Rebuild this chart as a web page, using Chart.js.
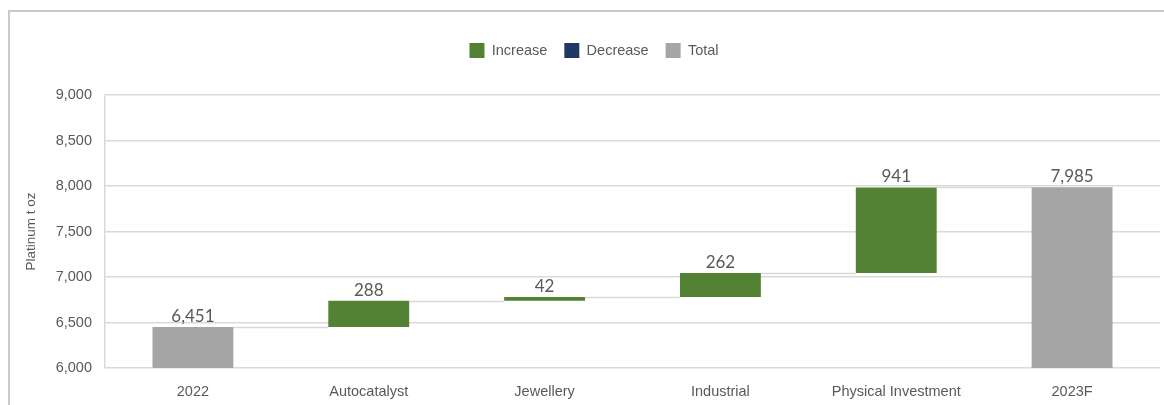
<!DOCTYPE html>
<html><head><meta charset="utf-8">
<script src="https://cdn.jsdelivr.net/npm/chart.js@4"></script>
<style>
html,body{margin:0;padding:0;background:#fff;overflow:hidden;}
#frame{position:absolute;left:8px;top:10px;width:1200px;height:500px;border-top:2px solid #c9c9c9;border-left:2px solid #c9c9c9;box-sizing:border-box;}
#wrap{position:absolute;left:0;top:0;width:1164px;height:405px;}
</style></head>
<body>
<div id="frame"></div>
<div id="wrap"><canvas id="c" width="1164" height="405"></canvas></div>
<script>
const categories = ['2022','Autocatalyst','Jewellery','Industrial','Physical Investment','2023F'];
const increases = [null, 288, 42, 262, 941, null];
const decreases = [null, null, null, null, null, null];
const totals = [6451, null, null, null, null, 7985];
const yTicks = [6000, 6500, 7000, 7500, 8000, 8500, 9000];
const axisMin = 6000, axisMax = 9000;

// build floating bars from the values
const incData = [], decData = [], totData = [], tops = [], labels = [];
let running = 0;
categories.forEach((c, i) => {
  if (totals[i] != null) {
    totData.push([axisMin, totals[i]]); incData.push(null); decData.push(null);
    running = totals[i]; tops.push(totals[i]);
    labels.push(totals[i].toLocaleString('en-US'));
  } else if (increases[i] != null) {
    incData.push([running, running + increases[i]]); totData.push(null); decData.push(null);
    running += increases[i]; tops.push(running);
    labels.push(increases[i].toLocaleString('en-US'));
  } else {
    decData.push([running - decreases[i], running]); incData.push(null); totData.push(null);
    running -= decreases[i]; tops.push(running);
    labels.push(decreases[i].toLocaleString('en-US'));
  }
});

const FONT = '"Liberation Sans", Arial, sans-serif';

const legendSpacing = {
  id: 'legendSpacing',
  beforeInit(chart) {
    const orig = chart.legend.fit;
    chart.legend.fit = function () { orig.call(this); this.height += 27; };
  },
  afterLayout(chart) {
    chart.legend.left += 14; chart.legend.right += 14;
  }
};

const connectorPlugin = {
  id: 'connectors',
  beforeDatasetsDraw(chart) {
    const ctx = chart.ctx, y = chart.scales.y;
    const metas = [0,1,2].map(d => chart.getDatasetMeta(d));
    const barAt = i => metas.map(m => m.data[i]).find((b, k) => b && chart.data.datasets[k].data[i] != null);
    ctx.save();
    ctx.strokeStyle = '#d9d9d9'; ctx.lineWidth = 1.5;
    for (let i = 0; i < categories.length - 1; i++) {
      const a = barAt(i), b = barAt(i + 1);
      const yy = Math.round(y.getPixelForValue(tops[i])) + 0.5;
      ctx.beginPath();
      ctx.moveTo(a.x + a.width / 2, yy);
      ctx.lineTo(b.x - b.width / 2, yy);
      ctx.stroke();
    }
    ctx.restore();
  }
};

const labelPlugin = {
  id: 'valueLabels',
  afterDatasetsDraw(chart) {
    const ctx = chart.ctx, y = chart.scales.y, x = chart.scales.x;
    ctx.save();
    ctx.font = '17px Lato, "Open Sans", sans-serif';
    ctx.fillStyle = '#595959';
    ctx.textAlign = 'center'; ctx.textBaseline = 'bottom';
    categories.forEach((c, i) => {
      ctx.fillText(labels[i], x.getPixelForValue(i), y.getPixelForValue(tops[i]) - 2);
    });
    ctx.restore();
  }
};

new Chart(document.getElementById('c'), {
  type: 'bar',
  data: {
    labels: categories,
    datasets: [
      {label: 'Increase', data: incData, backgroundColor: '#548235'},
      {label: 'Decrease', data: decData, backgroundColor: '#1f3864'},
      {label: 'Total', data: totData, backgroundColor: '#a5a5a5'}
    ]
  },
  options: {
    responsive: false,
    animation: false,
    devicePixelRatio: 1,
    layout: {padding: {top: 26, left: 0, right: 4, bottom: 0}},
    datasets: {bar: {grouped: false, barPercentage: 0.46, categoryPercentage: 1}},
    plugins: {
      tooltip: {enabled: false},
      legend: {
        position: 'top',
        labels: {
          boxWidth: 15, boxHeight: 15, padding: 17,
          color: '#595959',
          font: {family: FONT, size: 14.5}
        }
      }
    },
    scales: {
      x: {
        grid: {display: false},
        border: {display: false},
        afterFit: s => { s.height = 37; },
        ticks: {color: '#595959', padding: 7, font: {family: FONT, size: 14.5}}
      },
      y: {
        min: axisMin, max: axisMax,
        afterBuildTicks: s => { s.ticks = yTicks.map(v => ({value: v})); },
        afterFit: s => { s.width = 105; },
        grid: {color: '#d9d9d9', lineWidth: 1.5, drawTicks: false},
        border: {display: true, color: '#d9d9d9', width: 1.5},
        ticks: {
          color: '#595959', padding: 13,
          font: {family: FONT, size: 14.5},
          callback: v => v.toLocaleString('en-US')
        },
        title: {
          display: true, text: 'Platinum t oz', color: '#595959',
          font: {family: FONT, size: 13.5},
          padding: {top: 23, bottom: 0}
        }
      }
    }
  },
  plugins: [legendSpacing, connectorPlugin, labelPlugin]
});
</script>
</body></html>
